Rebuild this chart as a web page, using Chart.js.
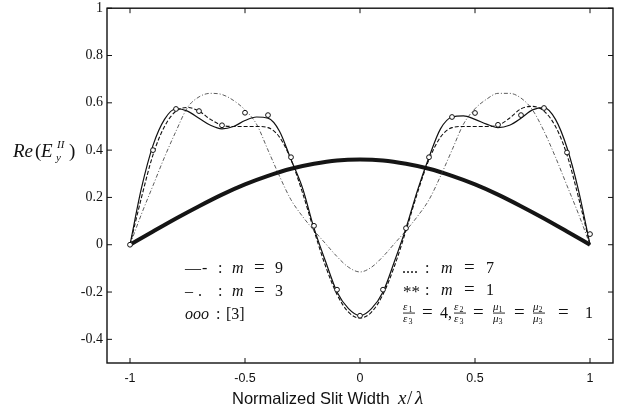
<!DOCTYPE html>
<html>
<head>
<meta charset="utf-8">
<script src="https://cdn.jsdelivr.net/npm/chart.js@4.4.1/dist/chart.umd.min.js"></script>
<style>
  html, body { margin: 0; padding: 0; background: #fff; }
</style>
</head>
<body>
<canvas id="c" width="623" height="413"></canvas>
<script>
// x positions of the computed curves
const xLine = [-1, -0.95, -0.9, -0.85, -0.8, -0.75, -0.7, -0.65, -0.6, -0.55, -0.5,
  -0.45, -0.4, -0.35, -0.3, -0.25, -0.2, -0.15, -0.1, -0.05, 0,
  0.05, 0.1, 0.15, 0.2, 0.25, 0.3, 0.35, 0.4, 0.45, 0.5,
  0.55, 0.6, 0.65, 0.7, 0.75, 0.8, 0.85, 0.9, 0.95, 1];

// m = 9 (solid)
const m9 = [0, 0.24, 0.42, 0.53, 0.575, 0.565, 0.535, 0.505, 0.49, 0.50, 0.525,
  0.54, 0.535, 0.48, 0.36, 0.24, 0.07, -0.07, -0.20, -0.27, -0.30,
  -0.27, -0.20, -0.07, 0.07, 0.23, 0.37, 0.49, 0.54, 0.545, 0.53,
  0.51, 0.495, 0.505, 0.535, 0.57, 0.58, 0.53, 0.41, 0.23, 0];

// m = 7 (dashed)
const m7 = [0, 0.20, 0.38, 0.50, 0.565, 0.58, 0.565, 0.53, 0.505, 0.50, 0.50,
  0.50, 0.495, 0.455, 0.36, 0.22, 0.06, -0.09, -0.21, -0.285, -0.31,
  -0.285, -0.21, -0.09, 0.06, 0.22, 0.36, 0.455, 0.495, 0.50, 0.50,
  0.50, 0.505, 0.535, 0.575, 0.585, 0.565, 0.50, 0.38, 0.20, 0];

// m = 3 (dash-dot)
const m3 = [0, 0.13, 0.25, 0.37, 0.48, 0.58, 0.625, 0.64, 0.635, 0.61, 0.57,
  0.51, 0.40, 0.29, 0.19, 0.12, 0.06, 0.005, -0.05, -0.095, -0.115,
  -0.095, -0.05, 0.005, 0.06, 0.12, 0.19, 0.29, 0.40, 0.51, 0.575,
  0.615, 0.64, 0.64, 0.62, 0.57, 0.48, 0.37, 0.25, 0.13, 0];

// reference [3] (circles)
const xRef = [-1, -0.9, -0.8, -0.7, -0.6, -0.5, -0.4, -0.3, -0.2, -0.1, 0,
  0.1, 0.2, 0.3, 0.4, 0.5, 0.6, 0.7, 0.8, 0.9, 1];
const ref3 = [0, 0.40, 0.574, 0.565, 0.505, 0.558, 0.548, 0.37, 0.08, -0.19, -0.30,
  -0.19, 0.07, 0.37, 0.54, 0.557, 0.507, 0.548, 0.578, 0.39, 0.045];

// m = 1 (thick, asterisks)
const xM1 = [-1, -0.9, -0.8, -0.7, -0.6, -0.5, -0.4, -0.3, -0.2, -0.1, 0,
  0.1, 0.2, 0.3, 0.4, 0.5, 0.6, 0.7, 0.8, 0.9, 1];
const m1 = [0, 0.056, 0.111, 0.163, 0.212, 0.255, 0.291, 0.321, 0.342, 0.356, 0.36,
  0.356, 0.342, 0.321, 0.291, 0.255, 0.212, 0.163, 0.111, 0.056, 0];

const xTicks = [-1, -0.5, 0, 0.5, 1];
const xTickLabels = ['-1', '-0.5', '0', '0.5', '1'];
const yTicks = [-0.4, -0.2, 0, 0.2, 0.4, 0.6, 0.8, 1];
const yTickLabels = ['-0.4', '-0.2', '0', '0.2', '0.4', '0.6', '0.8', '1'];

const pts = (xv, yv) => xv.map((x, i) => ({ x, y: yv[i] }));

const SERIF = '"Liberation Serif", "DejaVu Serif", serif';
const SANS = '"Liberation Sans", "DejaVu Sans", sans-serif';
const R = '16px ' + SERIF, I = 'italic 16px ' + SERIF, EQ = '19px ' + SERIF;

// text pieces placed at given x
function put(ctx, y, parts) {
  parts.forEach(p => {
    ctx.font = p.f;
    ctx.fillText(p.t, p.x, y + (p.dy || 0));
  });
}

// small stacked fraction like eps1/eps3, bar at y
function frac(ctx, x, y, num, den) {
  ctx.font = 'italic 11px ' + SERIF;
  ctx.fillText(num[0], x, y - 3);
  ctx.fillText(den[0], x, y + 9);
  ctx.font = '8px ' + SERIF;
  ctx.fillText(num[1], x + 5.5, y - 1.5);
  ctx.fillText(den[1], x + 5.5, y + 10.5);
  ctx.fillRect(x, y - 0.4, 12, 0.9);
}

const frame = {
  id: 'frame',
  afterDatasetsDraw(chart) {
    const { ctx, chartArea: a, scales: { x, y } } = chart;
    ctx.save();
    ctx.strokeStyle = '#111';
    ctx.lineWidth = 1.4;
    ctx.strokeRect(a.left, a.top, a.right - a.left, a.bottom - a.top);
    ctx.lineWidth = 1;
    ctx.beginPath();
    xTicks.forEach(v => {
      const p = x.getPixelForValue(v);
      ctx.moveTo(p, a.bottom); ctx.lineTo(p, a.bottom - 5);
      ctx.moveTo(p, a.top); ctx.lineTo(p, a.top + 5);
    });
    yTicks.forEach(v => {
      const p = y.getPixelForValue(v);
      ctx.moveTo(a.left, p); ctx.lineTo(a.left + 5, p);
      ctx.moveTo(a.right, p); ctx.lineTo(a.right - 5, p);
    });
    ctx.stroke();

    ctx.fillStyle = '#111';
    ctx.textBaseline = 'alphabetic';
    ctx.textAlign = 'left';

    // y title Re(E_y^II)
    put(ctx, 157, [
      { t: 'Re', f: 'italic 19px ' + SERIF, x: 13 },
      { t: '(', f: '19px ' + SERIF, x: 35 },
      { t: 'E', f: 'italic 19px ' + SERIF, x: 41 },
      { t: 'II', f: 'italic 11px ' + SERIF, x: 57, dy: -9 },
      { t: 'y', f: 'italic 11px ' + SERIF, x: 56, dy: 4 },
      { t: ')', f: '19px ' + SERIF, x: 69 }
    ]);

    // x title
    put(ctx, 404, [
      { t: 'Normalized Slit Width', f: '16.5px ' + SANS, x: 232 },
      { t: 'x', f: 'italic 19px ' + SERIF, x: 398 },
      { t: '/', f: '19px ' + SERIF, x: 407 },
      { t: 'λ', f: 'italic 19px ' + SERIF, x: 415 }
    ]);

    // legend notes, left block
    put(ctx, 273, [{ t: '—', f: R, x: 185 }, { t: '-', f: R, x: 202 }, { t: ':', f: R, x: 218 },
      { t: 'm', f: I, x: 232 }, { t: '=', f: EQ, x: 254 }, { t: '9', f: R, x: 275 }]);
    put(ctx, 296, [{ t: '–', f: R, x: 185 }, { t: '.', f: R, x: 198 }, { t: ':', f: R, x: 218 },
      { t: 'm', f: I, x: 232 }, { t: '=', f: EQ, x: 254 }, { t: '3', f: R, x: 275 }]);
    put(ctx, 319, [{ t: 'ooo', f: I, x: 185 }, { t: ':', f: R, x: 216 }, { t: '[3]', f: R, x: 226 }]);

    // legend notes, right block
    put(ctx, 273, [{ t: '....', f: R, x: 402 }, { t: ':', f: R, x: 425 },
      { t: 'm', f: I, x: 441 }, { t: '=', f: EQ, x: 464 }, { t: '7', f: R, x: 486 }]);
    put(ctx, 297, [{ t: '**', f: '17px ' + SERIF, x: 403 }, { t: ':', f: R, x: 425, dy: -2 },
      { t: 'm', f: I, x: 441, dy: -2 }, { t: '=', f: EQ, x: 464, dy: -2 }, { t: '1', f: R, x: 486, dy: -2 }]);
    const fy = 313;
    frac(ctx, 403, fy, ['ε', '1'], ['ε', '3']);
    put(ctx, fy + 5, [{ t: '=', f: EQ, x: 422 }, { t: '4,', f: R, x: 440 }]);
    frac(ctx, 454, fy, ['ε', '2'], ['ε', '3']);
    put(ctx, fy + 5, [{ t: '=', f: EQ, x: 473 }]);
    frac(ctx, 493, fy, ['μ', '1'], ['μ', '3']);
    put(ctx, fy + 5, [{ t: '=', f: EQ, x: 514 }]);
    frac(ctx, 533, fy, ['μ', '2'], ['μ', '3']);
    put(ctx, fy + 5, [{ t: '=', f: EQ, x: 558 }, { t: '1', f: R, x: 585 }]);
    ctx.restore();
  }
};

const lineSet = (label, data, extra) => Object.assign({
  label, data, showLine: true, borderColor: '#111', borderWidth: 1.2,
  pointRadius: 0, cubicInterpolationMode: 'monotone', fill: false
}, extra);

new Chart(document.getElementById('c'), {
  type: 'scatter',
  data: {
    datasets: [
      {
        label: '[3]', data: pts(xRef, ref3), showLine: false,
        pointRadius: 2.4, pointBorderWidth: 1, pointBorderColor: '#111',
        pointBackgroundColor: '#fff'
      },
      lineSet('m = 9', pts(xLine, m9)),
      lineSet('m = 7', pts(xLine, m7), { borderDash: [4, 2], borderWidth: 1.1 }),
      lineSet('m = 3', pts(xLine, m3), { borderDash: [4, 2, 1, 2], borderWidth: 0.8, borderColor: '#333' }),
      lineSet('m = 1', pts(xM1, m1), { borderWidth: 4, borderColor: '#151515' })
    ]
  },
  options: {
    responsive: false,
    animation: false,
    devicePixelRatio: 1,
    layout: { padding: { left: 0, right: 10, top: 7, bottom: 0 } },
    plugins: { legend: { display: false }, tooltip: { enabled: false } },
    scales: {
      x: {
        type: 'linear', min: -1.1, max: 1.1,
        afterBuildTicks: s => { s.ticks = xTicks.map(v => ({ value: v })); },
        afterFit: s => { s.height = 50; },
        grid: { display: false, drawTicks: false },
        border: { display: false },
        ticks: {
          padding: 8, color: '#111', font: { family: SANS, size: 12.5 },
          callback: (v, i) => xTickLabels[i]
        }
      },
      y: {
        type: 'linear', min: -0.5, max: 1,
        afterBuildTicks: s => { s.ticks = yTicks.map(v => ({ value: v })); },
        afterFit: s => { s.width = 107; },
        grid: { display: false, drawTicks: false },
        border: { display: false },
        ticks: {
          padding: 4, color: '#111', font: { family: SERIF, size: 14, lineHeight: 0.6 },
          callback: (v, i) => yTickLabels[i]
        }
      }
    }
  },
  plugins: [frame]
});
</script>
</body>
</html>
